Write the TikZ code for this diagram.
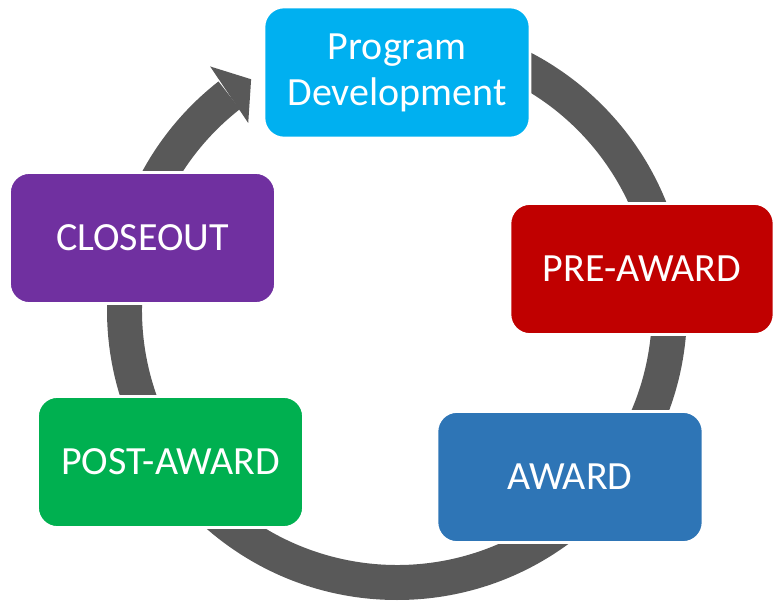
\documentclass[tikz,border=0pt]{standalone}
\usepackage{fontspec}
\setmainfont{Carlito}
\definecolor{ringgray}{HTML}{595959}
\definecolor{progc}{HTML}{00B0F0}
\definecolor{prec}{HTML}{C00000}
\definecolor{closec}{HTML}{7030A0}
\definecolor{postc}{HTML}{00B050}
\definecolor{awardc}{HTML}{2E75B6}
\begin{document}
\begin{tikzpicture}[x=0.75pt,y=0.75pt,
  stage/.style={rounded corners=15pt, draw=white, line width=2pt,
    minimum width=199.5pt, minimum height=98.25pt, inner sep=0pt,
    text=white, align=center, font=\fontsize{30}{34.5}\selectfont}]
\useasboundingbox (0,0) rectangle (774,600);
% ring
\fill[ringgray, shift={(397,290)}] (90:290) arc[start angle=90, end angle=-232, radius=217.5pt]
  -- (128:255) arc[start angle=128, end angle=450, radius=191.25pt] -- cycle;
% arrowhead
\fill[ringgray, shift={(397,290)}] (127.5:307) -- (122.3:273) -- (128.5:239) -- cycle;
% stages
\node[stage, fill=progc] (prog) at (397,527.5) {Program\\Development};
\node[stage, fill=prec, minimum width=198pt] (pre) at (642,331) {PRE-AWARD};
\node[stage, fill=awardc] (award) at (570,123) {AWARD};
\node[stage, fill=postc] (post) at (170.5,138) {POST-AWARD};
\node[stage, fill=closec] (close) at (142.5,362) {CLOSEOUT};
\end{tikzpicture}
\end{document}
